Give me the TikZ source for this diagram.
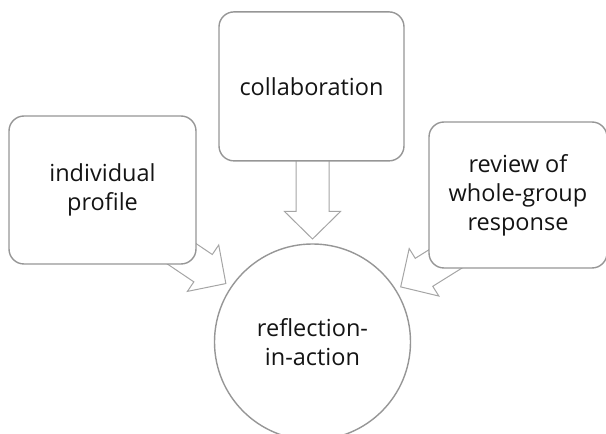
\documentclass[tikz,border=0pt]{standalone}
\usepackage{fontspec}
\setmainfont{Open Sans}
\usetikzlibrary{calc}
\pgfdeclarelayer{background}
\pgfsetlayers{background,main}
\definecolor{edgegray}{RGB}{150,150,150}
\definecolor{arrowgray}{RGB}{165,165,165}
\definecolor{textgray}{RGB}{20,20,20}
\tikzset{
  box/.style={draw=edgegray, line width=1.4pt, fill=white, rounded corners=15pt,
    align=center, text=textgray, inner sep=0pt,
    font=\fontsize{23.5}{29}\selectfont},
  hub/.style={box, circle, minimum size=196pt},
  arrowline/.style={draw=arrowgray, line width=1pt, fill=white, line join=miter},
  blockarrow/.pic={
    \path[arrowline] (0,0) -- (-27.5,28) -- (-27.5,16.5) -- (-95,16.5)
      -- (-95,-16.5) -- (-27.5,-16.5) -- (-27.5,-28) -- cycle;
  }
}
\begin{document}
\begin{tikzpicture}[x=1pt, y=1pt]
    \useasboundingbox (0,0) rectangle (606,434);
    \node[hub] (refl) at (312.5,92) {reflection-\\in-action};
    \node[box, minimum width=185pt, minimum height=149pt] (collab) at (311.5,347.6) {collaboration};
    \node[box, minimum width=187pt, minimum height=148pt] (indiv) at (102.5,244) {individual\\profile};
    \node[box, minimum width=178pt, minimum height=146pt] (review) at (518,239) {review of\\whole-group\\response};
    % block arrows point at the centre of the circle
    \begin{pgfonlayer}{background}
      \foreach \ang/\dist in {146/104.5, 90/103, 32/104}
        \pic[rotate=\ang+180] at ($(refl.center)+(\ang:\dist)$) {blockarrow};
    \end{pgfonlayer}
\end{tikzpicture}
\end{document}
